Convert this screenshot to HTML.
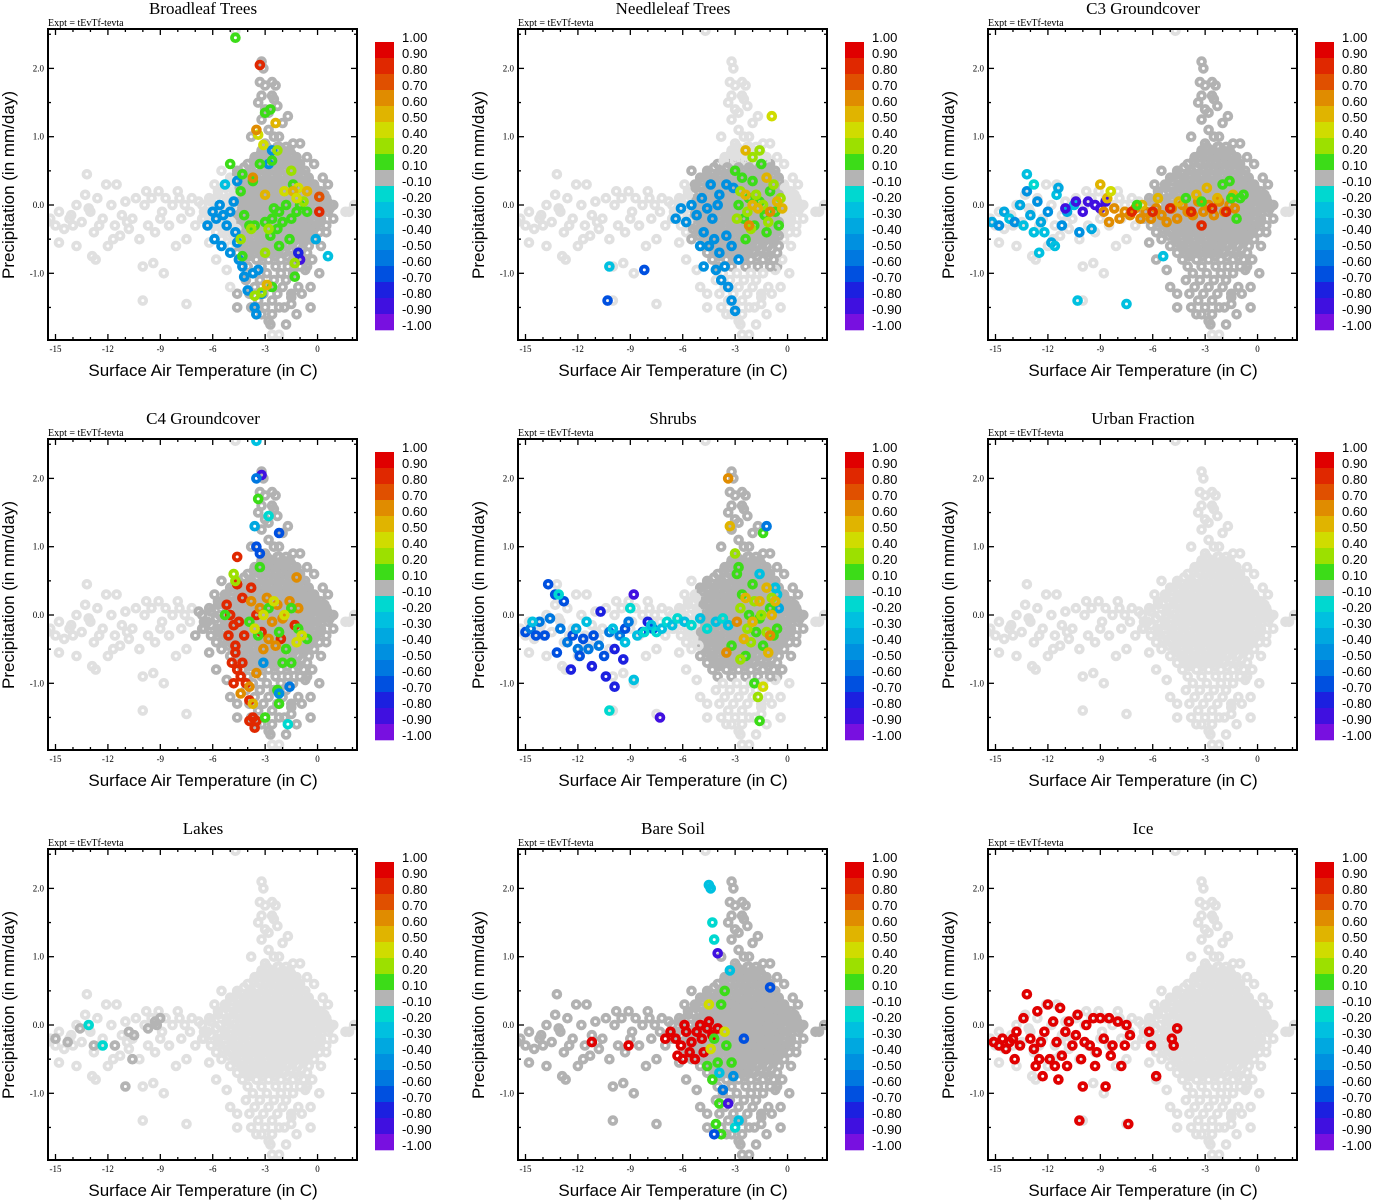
<!DOCTYPE html>
<html><head><meta charset="utf-8">
<style>
html,body{margin:0;padding:0;background:#fff;}
svg{display:block;}
.ttl{font-family:"Liberation Serif",serif;font-size:17px;}
.exp{font-family:"Liberation Serif",serif;font-size:10px;}
.tk{font-family:"Liberation Serif",serif;font-size:9px;}
.ax{font-family:"Liberation Sans",sans-serif;font-size:17px;}
.cb{font-family:"Liberation Sans",sans-serif;font-size:13px;}
</style></head>
<body>
<svg id="root" width="1373" height="1200" viewBox="0 0 1373 1200"></svg>
<script>
// ---------- data ----------
const panelTitles = ["Broadleaf Trees","Needleleaf Trees","C3 Groundcover","C4 Groundcover","Shrubs","Urban Fraction","Lakes","Bare Soil","Ice"];
const xTicks = [-15,-12,-9,-6,-3,0];
const yTicks = [-1.0,0.0,1.0,2.0];
const cbLabels = ["1.00","0.90","0.80","0.70","0.60","0.50","0.40","0.20","0.10","-0.10","-0.20","-0.30","-0.40","-0.50","-0.60","-0.70","-0.80","-0.90","-1.00"];
const cbColors = ["#e00000","#e02800","#e05000","#e08c00","#e0b400","#d0dc00","#9ce000","#3cdc18","#b4b4b4","#00d8d0","#00c0e0","#00a8e0","#0090e0","#0078e0","#0050e0","#1c20e0","#4010e0","#7810e0"];
const cbLevels = [0.9,0.8,0.7,0.6,0.5,0.4,0.2,0.1,-0.1,-0.2,-0.3,-0.4,-0.5,-0.6,-0.7,-0.8,-0.9,-1.0];

// base cloud (temperature, precipitation)
const tailT = [-15.3,-15,-14.8,-14.5,-14.2,-14,-13.8,-13.5,-13.3,-13.2,-13,-12.8,-12.6,-12.5,-12.3,-12.1,-12,-11.8,-11.6,-11.5,-11.3,-11.2,-11,-10.8,-10.6,-10.4,-10.2,-10,-9.9,-9.7,-9.5,-9.3,-9.1,-9,-8.8,-8.7,-8.5,-8.3,-8.1,-8,-7.8,-7.6,-7.5,-7.3,-7.2,-7,-14.8,-13.8,-12.9,-11.7,-10,-7.5,-12.7,-9.4,-6.8,-6.6,-6.5,-14.1,-13.1,-10.9,-9.8,-8.9,-7.9,-15.5,1.6,2.1];
const tailP = [-0.2,-0.3,-0.1,-0.35,-0.2,-0.3,0.0,-0.25,0.15,0.45,-0.1,-0.4,0.1,-0.3,-0.2,0.3,-0.6,0.0,-0.3,0.3,-0.45,-0.15,0.05,-0.35,-0.2,0.1,-0.5,-0.9,0.0,-0.3,0.1,-0.4,0.2,-0.2,-1.0,0.1,-0.3,0.0,-0.6,0.2,-0.2,0.0,-0.5,-0.1,0.1,-0.3,-0.55,-0.6,-0.75,-0.5,-1.4,-1.45,-0.8,-0.85,0.05,-0.2,-0.1,-0.15,-0.05,-0.25,0.2,-0.1,0.1,-0.25,-0.1,0.0];
const spireT = [-3.2,-3.1,-3.3,-3.0,-2.6,-2.4,-2.5,-3.2,-2.6,-3.0,-2.8,-3.2,-2.8,-2.2,-2.5,-3.0,-2.2,-1.7,-4.7,-2.2,-3.4,-2.0,-1.4,-1.9,-3.5,-0.6,-3.8,-1.5,-2.7,-4.6,-1.1,-2.3];
const spireP = [2.1,2.0,1.8,1.75,1.8,1.75,1.55,1.6,1.6,1.4,1.35,1.25,1.1,1.0,1.0,0.9,0.85,1.3,2.55,0.5,1.5,1.2,0.9,-1.5,-1.6,-0.9,1.0,-1.35,-1.75,-1.5,-1.2,1.45];
const extraT = [0.3,0.6,0.8,0.5,0.9,0.2,-0.3,0.1,-0.4,-0.9,-1.2,-1.8,-2.2,-0.6,-0.2,-1.0,-0.4,-1.5,0.4,1.8,-5.5,-5.9,-6.2,-5.8,-5.2,-4.6,-5.0,0.0,-0.7,0.7,-0.1];
const extraP = [0.4,0.3,0.0,-0.4,-0.2,-0.6,-0.8,-1.0,-1.2,-1.3,-1.6,-1.75,-1.9,0.7,0.6,0.9,-1.5,-1.45,0.15,-0.1,0.5,0.3,-0.55,-0.8,-0.95,-1.3,-1.2,0.05,-0.95,-0.05,-0.3];
const coreRowP = [0.8,0.7,0.6,0.5,0.4,0.3,0.2,0.1,0.0,-0.1,-0.2,-0.3,-0.4,-0.5,-0.6,-0.7,-0.8,-0.9,-1.0,-1.1,-1.2,-1.3,-1.4,-1.5,-1.6,-1.7,-1.9];
const coreRowT = [
 [-3.2,-2.6,-2.0,-1.6],
 [-3.6,-2.9,-2.3,-1.8,-1.2],
 [-4.0,-3.3,-2.7,-2.1,-1.5,-1.0],
 [-4.6,-3.8,-3.1,-2.5,-1.9,-1.3,-0.7],
 [-5.0,-4.2,-3.5,-2.9,-2.3,-1.7,-1.1,-0.5],
 [-5.3,-4.5,-3.9,-3.2,-2.6,-2.0,-1.4,-0.8,-0.2],
 [-5.7,-4.8,-4.1,-3.5,-2.9,-2.3,-1.7,-1.1,-0.5,0.2],
 [-6.2,-5.2,-4.4,-3.8,-3.2,-2.6,-2.0,-1.4,-0.8,-0.2,0.5],
 [-6.6,-5.6,-4.8,-4.1,-3.5,-2.9,-2.3,-1.7,-1.1,-0.5,0.2,0.9],
 [-6.3,-5.3,-4.5,-3.8,-3.2,-2.6,-2.0,-1.4,-0.8,-0.2,0.6],
 [-6.5,-5.7,-4.9,-4.2,-3.5,-2.9,-2.3,-1.7,-1.1,-0.5,0.2],
 [-6.1,-5.3,-4.6,-3.9,-3.2,-2.6,-2.0,-1.4,-0.8,-0.2,0.5],
 [-5.8,-5.0,-4.3,-3.6,-2.9,-2.3,-1.7,-1.1,-0.5,0.1],
 [-5.5,-4.7,-4.0,-3.3,-2.6,-2.0,-1.4,-0.8,-0.2],
 [-5.0,-4.3,-3.6,-2.9,-2.3,-1.7,-1.1,-0.5],
 [-4.6,-3.9,-3.2,-2.5,-1.9,-1.2,-0.6],
 [-4.3,-3.5,-2.8,-2.1,-1.4,-0.8],
 [-4.0,-3.2,-2.4,-1.7,-1.0],
 [-3.7,-2.9,-2.1,-1.4],
 [-4.1,-3.3,-2.5,-1.8],
 [-3.6,-2.8,-2.0],
 [-3.9,-3.1,-2.3,-1.5],
 [-3.4,-2.6],
 [-3.8,-3.0,-2.2],
 [-3.2,-2.6],
 [-2.8],
 [-2.6]];

// dark-grey regions per panel [tmin,tmax,pmin,pmax] (data units), null = none
const darkBoxes = [[-4.6,1,-1.8,2.3],[-5.5,-0.5,-0.9,0.6],[-6.5,1,-1.8,2.3],[-7,1,-1.8,2.3],[-5,1,-0.9,2.3],null,null,[-16,3,-2,2.2],null];

// colored points per panel: [t, p, value]
const pts1 = [[-6.3,-0.3,-0.5],[-6.0,-0.1,-0.5],[-5.8,-0.2,-0.5],[-5.6,0.0,-0.5],[-5.4,-0.15,-0.5],[-5.2,-0.3,-0.5],[-5.9,-0.5,-0.5],[-5.5,-0.6,-0.5],[-5.0,-0.1,-0.5],[-4.8,0.05,-0.5],[-4.7,-0.4,-0.5],[-4.5,-0.8,-0.5],[-4.3,-0.9,-0.5],[-5.0,-0.7,-0.5],[-4.2,-1.05,-0.45],[-3.7,-1.0,-0.5],[-3.4,-0.95,-0.5],[-4.0,-1.25,-0.5],[-3.6,-1.5,-0.5],[-3.5,-1.6,-0.45],[-3.2,-1.3,-0.5],[-4.6,-0.55,-0.5],[-5.3,0.3,-0.3],[-4.6,0.35,-0.45],[-2.8,0.6,-0.5],[-2.6,0.8,-0.5],[-0.1,-0.5,-0.4],[0.6,-0.75,-0.25],[-1.0,-0.8,-0.85],[-1.1,-0.7,-0.75],
[-5.0,0.6,0.15],[-4.3,0.45,0.15],[-3.7,0.35,0.15],[-4.4,0.2,0.15],[-4.2,-0.15,0.15],[-3.9,-0.3,0.15],[-3.6,-0.3,0.15],[-3.0,-0.25,0.15],[-2.6,-0.2,0.15],[-2.3,-0.35,0.15],[-2.0,-0.25,0.15],[-1.5,-0.2,0.15],[-1.2,-0.1,0.15],[-2.5,-0.05,0.15],[-2.2,-0.1,0.15],[-1.8,0.0,0.15],[-1.4,0.3,0.15],[-1.0,0.0,0.15],[-0.6,-0.1,0.15],[-2.7,-0.45,0.15],[-2.2,-0.6,0.15],[-1.6,-0.5,0.15],[-4.3,-0.75,0.15],[-2.6,-1.2,0.15],[-1.3,-1.05,0.15],[-2.7,1.4,0.15],[-3.0,1.35,0.15],[-2.6,0.65,0.15],[-3.3,0.6,0.15],[-1.3,-0.85,0.3],[-1.5,0.5,0.3],[-4.7,2.45,0.15],
[-3.4,1.03,0.45],[-3.1,0.88,0.45],[-2.3,0.8,0.3],[-1.9,0.2,0.45],[-1.1,0.25,0.45],[-2.8,-0.35,0.3],[-3.8,-0.35,0.3],[-4.4,-0.5,0.3],[-3.0,-0.7,0.3],[-3.6,-1.33,0.3],[-3.2,-1.28,0.3],[-0.8,0.05,0.3],
[-3.0,0.15,0.55],[-1.4,0.2,0.55],[-1.2,0.1,0.45],[-2.4,1.2,0.55],[-0.6,0.2,0.55],[-2.9,-1.17,0.55],[-3.5,1.1,0.65],[-3.7,0.4,0.65],[-3.3,2.05,0.85],[0.1,0.12,0.75],[0.1,-0.1,0.85]];
const pts2 = [[-6.4,-0.2,-0.5],[-6.1,-0.05,-0.5],[-5.8,-0.25,-0.5],[-5.5,0.0,-0.5],[-5.2,-0.15,-0.5],[-4.9,0.1,-0.5],[-4.6,-0.05,-0.5],[-4.3,-0.2,-0.5],[-4.0,0.0,-0.5],[-4.4,0.3,-0.5],[-4.8,-0.4,-0.5],[-4.5,-0.6,-0.5],[-4.2,-0.5,-0.5],[-3.9,-0.7,-0.5],[-3.6,-0.9,-0.5],[-3.8,-1.1,-0.5],[-3.4,-1.2,-0.5],[-3.2,-1.4,-0.5],[-3.0,-1.55,-0.5],[-3.5,-0.45,-0.5],[-3.2,-0.6,-0.5],[-2.8,-0.8,-0.5],[-4.8,-0.9,-0.5],[-4.1,-0.95,-0.5],[-3.9,0.15,-0.5],[-3.5,0.3,-0.5],[-3.1,0.25,-0.5],[-5.0,-0.6,-0.5],[-10.2,-0.9,-0.25],[-8.2,-0.95,-0.65],[-10.3,-1.4,-0.7],
[-2.8,0.0,0.15],[-2.5,-0.2,0.15],[-2.2,0.1,0.15],[-1.9,-0.3,0.15],[-1.6,0.05,0.15],[-1.3,-0.15,0.15],[-1.0,0.2,0.15],[-0.7,-0.1,0.15],[-2.0,0.35,0.15],[-2.6,0.4,0.15],[-1.2,-0.4,0.15],[-0.5,-0.3,0.15],[-1.5,0.6,0.15],[-2.4,-0.5,0.15],[-3.0,0.5,0.15],
[-2.7,0.2,0.3],[-2.3,-0.1,0.3],[-1.8,0.15,0.3],[-1.4,0.0,0.3],[-1.1,-0.25,0.3],[-0.8,0.3,0.3],[-2.1,-0.35,0.3],[-1.6,0.8,0.3],[-2.0,0.7,0.3],[-0.4,0.1,0.3],[-2.9,-0.2,0.3],[-0.9,1.3,0.45],
[-2.4,0.15,0.55],[-1.7,-0.05,0.55],[-1.2,0.4,0.55],[-0.6,0.05,0.55],[-2.0,0.0,0.55],[-0.3,-0.05,0.55],[-2.4,0.8,0.55],[-1.0,-0.1,0.65],[-2.2,-0.3,0.65]];
const pts3 = [[-15.2,-0.25,-0.35],[-14.8,-0.3,-0.45],[-14.5,-0.1,-0.35],[-14.2,-0.2,-0.3],[-13.9,-0.25,-0.45],[-13.6,0.0,-0.35],[-13.4,-0.3,-0.3],[-13.2,0.2,-0.45],[-13.0,-0.15,-0.35],[-12.8,-0.4,-0.3],[-12.6,0.05,-0.45],[-12.4,-0.25,-0.35],[-12.2,-0.4,-0.3],[-12.0,-0.1,-0.45],[-11.8,-0.55,-0.35],[-11.5,0.15,-0.3],[-11.2,-0.3,-0.45],[-10.9,-0.1,-0.35],[-10.5,0.0,-0.3],[-10.2,-0.4,-0.45],[-11.6,-0.6,-0.3],[-12.5,-0.7,-0.25],[-10.3,-1.4,-0.25],[-7.5,-1.45,-0.3],[-13.2,0.45,-0.3],[-12.8,0.3,-0.2],[-11.4,0.25,-0.35],[-9.5,-0.35,-0.35],
[-10.0,-0.1,-0.85],[-9.7,0.05,-0.85],[-9.3,0.0,-0.85],[-9.0,-0.05,-0.85],[-8.7,0.05,-0.85],[-10.4,0.05,-0.85],[-11.0,-0.05,-0.85],
[-8.8,-0.1,0.65],[-8.5,-0.25,0.65],[-8.2,-0.05,0.65],[-7.9,-0.2,0.65],[-7.6,-0.1,0.65],[-7.3,-0.15,0.65],[-7.0,-0.05,0.65],[-6.7,-0.2,0.65],[-6.4,-0.1,0.65],[-6.1,-0.2,0.65],[-5.8,-0.05,0.65],[-5.5,-0.15,0.65],[-5.2,-0.25,0.65],[-4.9,-0.05,0.65],[-4.6,-0.2,0.65],[-4.3,0.0,0.65],[-4.0,-0.1,0.65],[-3.7,-0.15,0.65],[-3.4,0.05,0.65],[-3.1,-0.1,0.65],[-2.8,0.0,0.65],[-2.5,-0.15,0.65],[-2.2,0.05,0.65],[-1.9,-0.1,0.65],[-1.6,0.0,0.65],[-1.3,-0.05,0.65],[-8.6,0.1,0.55],[-9.0,0.3,0.55],[-8.4,0.2,0.45],
[-5.0,-0.05,0.85],[-3.8,-0.1,0.85],[-2.6,-0.05,0.85],[-1.8,-0.1,0.85],[-7.2,-0.1,0.85],[-3.2,-0.3,0.85],[-6.0,-0.1,0.85],
[-4.5,0.05,0.55],[-3.5,0.15,0.55],[-2.3,0.1,0.55],[-1.4,0.15,0.55],[-2.9,0.25,0.55],[-6.6,0.0,0.55],[-5.7,0.1,0.55],
[-2.0,0.3,0.15],[-1.5,0.1,0.15],[-1.0,0.1,0.15],[-3.2,0.05,0.15],[-1.2,-0.2,0.15],[-4.1,0.1,0.15],[-6.9,0.0,0.15],[-0.8,0.15,0.15],[-1.6,0.35,0.15],[-5.4,-0.75,-0.25]];
const pts4 = [[-5.2,0.15,0.85],[-5.0,0.0,0.85],[-4.8,-0.15,0.85],[-5.1,-0.3,0.85],[-4.7,-0.45,0.85],[-4.5,-0.1,0.85],[-4.3,0.25,0.85],[-4.9,-0.7,0.85],[-4.6,-0.8,0.85],[-4.4,-0.9,0.85],[-4.1,-1.0,0.85],[-3.9,-1.25,0.85],[-3.7,-1.5,0.85],[-3.9,-1.55,0.85],[-4.6,0.45,0.85],[-4.2,-0.3,0.85],[-3.8,0.4,0.85],[-3.5,0.0,0.85],[-3.2,-0.25,0.85],[-4.8,-1.0,0.85],[-4.6,0.85,0.85],[-3.5,-1.55,0.85],[-3.6,-1.65,0.85],[-4.3,-0.7,0.85],[-4.7,-0.55,0.85],[-2.1,-0.35,0.85],[-1.3,-0.15,0.85],
[-3.8,0.2,0.65],[-3.3,0.1,0.65],[-2.9,0.25,0.65],[-2.6,-0.1,0.65],[-2.3,0.15,0.65],[-2.0,-0.05,0.65],[-1.6,0.2,0.65],[-1.1,0.1,0.65],[-2.8,-0.35,0.65],[-2.4,-0.45,0.65],[-3.1,-0.5,0.65],[-1.2,0.55,0.65],[-4.4,-1.15,0.65],[-3.5,-0.85,0.65],[-3.9,-1.05,0.65],[-3.7,-1.3,0.55],
[-3.9,-0.1,0.15],[-3.4,-0.3,0.15],[-2.8,0.1,0.15],[-2.2,-0.25,0.15],[-1.8,-0.5,0.15],[-1.1,-0.2,0.15],[-0.6,-0.35,0.15],[-1.5,-0.7,0.15],[-2.0,-0.7,0.15],[-2.3,-1.1,0.15],[-3.0,-1.5,0.15],[-2.2,-1.3,0.15],[-3.3,0.7,0.15],[-3.4,1.7,0.15],[-5.3,0.0,0.15],[-4.8,0.6,0.3],[-4.7,0.5,0.3],[-1.5,0.1,0.15],
[-3.1,0.0,0.45],[-2.5,0.2,0.45],[-1.9,0.0,0.45],[-1.2,-0.4,0.45],[-3.6,-0.2,0.45],[-0.9,-0.3,0.45],
[-3.2,2.05,-0.9],[-3.5,2.0,-0.6],[-3.5,1.0,-0.7],[-2.8,1.45,-0.2],[-2.2,1.2,-0.65],[-3.3,0.9,-0.65],[-3.1,-0.7,-0.5],[-1.6,-1.05,-0.6],[-2.2,-1.15,-0.45],[-1.7,-1.6,-0.2],[-3.6,1.3,-0.4],[-3.5,2.55,-0.25]];
const pts5 = [[-15.0,-0.25,-0.7],[-14.7,-0.2,-0.6],[-14.4,-0.3,-0.7],[-14.2,-0.1,-0.6],[-13.9,-0.3,-0.7],[-13.6,-0.05,-0.6],[-13.3,0.3,-0.7],[-13.0,-0.2,-0.6],[-12.8,0.2,-0.7],[-12.6,-0.4,-0.6],[-12.3,-0.3,-0.7],[-12.0,-0.5,-0.6],[-11.7,-0.35,-0.7],[-11.4,-0.5,-0.6],[-11.1,-0.3,-0.7],[-10.8,-0.45,-0.6],[-10.5,-0.6,-0.7],[-10.2,-0.25,-0.6],[-9.9,-0.5,-0.75],[-9.6,-0.3,-0.6],[-13.2,-0.55,-0.7],[-12.4,-0.8,-0.75],[-11.9,-0.6,-0.7],[-11.2,-0.75,-0.8],[-10.4,-0.9,-0.75],[-9.9,-1.05,-0.8],[-13.7,0.45,-0.7],[-10.7,0.05,-0.75],[-9.4,-0.65,-0.8],[-9.3,-0.2,-0.7],[-8.3,-0.25,-0.7],[-8.0,-0.1,-0.75],[-7.7,-0.2,-0.7],[-7.3,-1.5,-0.85],[-9.1,-0.1,-0.6],[-8.8,0.3,-0.9],
[-14.6,-0.1,-0.3],[-13.1,0.3,-0.2],[-12.1,-0.2,-0.35],[-11.5,-0.1,-0.3],[-10.0,-0.2,-0.3],[-9.3,-0.4,-0.3],[-9.0,0.1,-0.2],[-8.6,-0.3,-0.3],[-8.2,-0.25,-0.2],[-7.8,-0.15,-0.3],[-7.5,-0.25,-0.2],[-7.2,-0.2,-0.3],[-6.9,-0.1,-0.2],[-6.6,-0.15,-0.3],[-6.3,-0.05,-0.2],[-5.9,-0.1,-0.3],[-5.5,-0.15,-0.2],[-5.0,-0.05,-0.3],[-4.6,-0.2,-0.2],[-4.1,-0.1,-0.3],[-3.7,-0.05,-0.2],[-3.4,-0.15,-0.3],[-10.2,-1.4,-0.2],[-8.8,-0.95,-0.25],[-1.6,0.6,-0.3],[-0.7,0.4,-0.3],[-0.5,0.1,-0.4],[-0.6,0.3,-0.3],
[-2.9,0.6,0.15],[-2.6,0.3,0.15],[-2.2,0.0,0.15],[-1.8,-0.25,0.15],[-1.4,-0.45,0.15],[-1.0,0.1,0.15],[-0.6,-0.2,0.15],[-2.4,-0.6,0.15],[-3.2,-0.45,0.15],[-2.0,0.45,0.15],[-1.6,-0.05,0.15],[-0.8,-0.3,0.15],[-1.4,1.2,0.15],[-1.9,-1.0,0.15],[-1.6,-1.55,0.15],[-2.8,0.7,0.15],
[-2.7,0.1,0.3],[-2.3,-0.2,0.3],[-1.9,0.2,0.3],[-1.5,0.0,0.3],[-1.2,-0.25,0.3],[-0.9,0.25,0.3],[-2.1,-0.4,0.3],[-2.7,-0.65,0.3],[-1.7,-1.2,0.3],[-1.4,-1.05,0.45],[-3.0,0.9,0.3],
[-2.4,0.25,0.55],[-2.0,-0.1,0.55],[-1.6,0.2,0.55],[-1.2,0.4,0.55],[-0.9,0.0,0.55],[-0.7,0.2,0.55],[-3.3,1.3,0.55],[-3.4,2.0,0.65],[-2.5,-0.35,0.55],[-1.1,-0.55,0.55],[-2.9,-0.1,0.65],[-3.5,-0.55,0.65],[-1.0,-0.3,0.65],[-1.2,1.3,-0.55]];
const pts6 = [];
const pts7 = [[-13.6,-0.05,0],[-12.8,-0.3,0],[-11.6,-0.3,0],[-10.8,-0.1,0],[-10.5,-0.15,0],[-9.7,-0.05,0],[-9.3,0.05,0],[-9.0,0.1,0],[-9.2,0.0,0],[-11.0,-0.9,0],[-10.6,-0.5,0],[-14.3,-0.25,0],[-15.0,-0.2,0],[-13.1,0.0,-0.2],[-12.3,-0.3,-0.2]];
const pts8 = [[-7.0,-0.2,0.9],[-6.7,-0.1,0.9],[-6.4,-0.2,0.9],[-6.1,-0.3,0.9],[-5.8,-0.1,0.9],[-5.5,-0.25,0.9],[-5.2,-0.1,0.9],[-4.9,-0.2,0.9],[-4.6,-0.05,0.9],[-4.3,-0.15,0.9],[-4.0,-0.05,0.9],[-6.3,-0.45,0.9],[-6.0,-0.5,0.9],[-5.6,-0.4,0.9],[-5.3,-0.5,0.9],[-5.0,0.0,0.9],[-11.2,-0.25,0.9],[-9.1,-0.3,0.9],[-4.5,0.05,0.9],[-5.9,0.0,0.9],[-4.8,-0.4,0.9],
[-4.2,-0.2,0.15],[-3.8,0.3,0.15],[-3.5,-0.3,0.15],[-4.6,-0.6,0.15],[-3.2,-0.55,0.15],[-4.0,-0.55,0.15],[-4.3,-0.8,0.15],[-3.9,-1.15,0.15],[-3.8,-1.6,0.15],[-4.1,-1.45,0.15],[-3.6,0.5,0.15],[-4.4,-0.35,0.45],[-3.6,-0.1,0.45],[-4.5,0.3,0.45],
[-3.3,0.8,-0.3],[-4.3,1.5,-0.2],[-4.2,1.25,-0.2],[-4.0,1.05,-0.9],[-4.4,2.0,-0.25],[-4.5,2.05,-0.3],[-3.4,-1.15,-0.85],[-3.1,-0.75,-0.5],[-3.0,-1.5,-0.2],[-4.2,-1.6,-0.7],[-2.8,-1.4,-0.3],[-3.7,-0.95,-0.6],[-3.9,-0.7,-0.3],[-1.0,0.55,-0.7],[-2.5,-0.2,-0.7]];
const pts9 = [[-15.1,-0.25,0.9],[-14.8,-0.3,0.9],[-14.6,-0.2,0.9],[-14.4,-0.35,0.9],[-14.2,-0.25,0.9],[-14.0,-0.2,0.9],[-13.8,-0.1,0.9],[-13.6,-0.3,0.9],[-13.4,0.1,0.9],[-13.2,0.45,0.9],[-13.0,-0.2,0.9],[-12.8,-0.35,0.9],[-12.6,0.2,0.9],[-12.4,-0.25,0.9],[-12.2,-0.1,0.9],[-12.0,0.3,0.9],[-11.9,-0.5,0.9],[-11.7,0.05,0.9],[-11.5,-0.25,0.9],[-11.3,0.25,0.9],[-11.2,-0.45,0.9],[-11.0,-0.1,0.9],[-10.8,0.05,0.9],[-10.6,-0.3,0.9],[-10.4,-0.15,0.9],[-10.3,0.15,0.9],[-10.1,-0.5,0.9],[-10.0,-0.9,0.9],[-9.8,0.0,0.9],[-9.6,-0.3,0.9],[-9.4,0.1,0.9],[-9.2,-0.4,0.9],[-9.0,0.1,0.9],[-8.8,-0.2,0.9],[-8.7,-0.9,0.9],[-8.5,0.1,0.9],[-8.3,-0.3,0.9],[-8.0,0.05,0.9],[-7.8,-0.6,0.9],[-7.5,0.0,0.9],[-7.3,-0.15,0.9],[-12.7,-0.6,0.9],[-12.3,-0.75,0.9],[-11.6,-0.6,0.9],[-13.9,-0.5,0.9],[-10.2,-1.4,0.9],[-7.4,-1.45,0.9],[-6.2,-0.1,0.9],[-6.1,-0.3,0.9],[-5.8,-0.75,0.9],[-4.9,-0.2,0.9],[-4.6,-0.05,0.9],[-4.8,-0.3,0.9],[-12.5,-0.5,0.9],[-11.4,-0.8,0.9],[-9.3,-0.6,0.9],[-10.9,-0.6,0.9],[-9.9,-0.25,0.9],[-8.4,-0.45,0.9],[-7.6,-0.3,0.9]];
const panelPoints = [pts1,pts2,pts3,pts4,pts5,pts6,pts7,pts8,pts9];

// ---------- drawing ----------
const NS = "http://www.w3.org/2000/svg";
const root = document.getElementById("root");
function mk(tag, attrs, parent){const e=document.createElementNS(NS,tag);for(const k in attrs)e.setAttribute(k,attrs[k]);(parent||root).appendChild(e);return e;}
function colorFor(v){
  if(v>-0.1 && v<0.1) return cbColors[8];
  for(let i=0;i<cbLevels.length;i++){ if(v>=cbLevels[i]) return cbColors[i]; }
  return cbColors[cbColors.length-1];
}
const baseT=[], baseP=[];
tailT.forEach((t,i)=>{baseT.push(t);baseP.push(tailP[i]);});
spireT.forEach((t,i)=>{baseT.push(t);baseP.push(spireP[i]);});
extraT.forEach((t,i)=>{baseT.push(t);baseP.push(extraP[i]);});
coreRowP.forEach((p,r)=>{coreRowT[r].forEach(t=>{baseT.push(t);baseP.push(p);});});
coreRowP.slice(0,17).forEach((p,r)=>{coreRowT[r].slice(0,-1).forEach((t,j)=>{baseT.push((t+coreRowT[r][j+1])/2);baseP.push(p+0.05);});});

const X0=55.5, XS=17.47, Y0=205, YS=68.3;
const RR=3.4, SW=3.8;
for(let k=0;k<9;k++){
  const ox=(k%3)*470, oy=Math.floor(k/3)*410;
  const xs=t=>ox+X0+(t+15)*XS;
  const ys=p=>oy+Y0-p*YS;
  const g=mk("g",{});
  
  
  const title=mk("text",{x:ox+203,y:oy+14,"text-anchor":"middle",class:"ttl"},g);
  title.textContent=panelTitles[k];
  
  
  const ex=mk("text",{x:ox+48,y:oy+26,class:"exp"},g);
  ex.textContent="Expt = tEvTf-tevta";
  
  
  const cp=mk("clipPath",{id:"c"+k},g);
  mk("rect",{x:ox+48,y:oy+29,width:309,height:311},cp);
  const pg=mk("g",{"clip-path":"url(#c"+k+")"},g);
  
  
  const db=darkBoxes[k];
  baseT.forEach((t,i)=>{
    const p=baseP[i];
    const dark = db && t>=db[0]&&t<=db[1]&&p>=db[2]&&p<=db[3];
    const c=mk("circle",{cx:xs(t).toFixed(1),cy:ys(p).toFixed(1),r:RR,fill:"none",stroke:dark?"#b2b2b2":"#e0e0e0","stroke-width":SW},pg);
    
    
  });
  panelPoints[k].forEach(d=>{
    const c=mk("circle",{cx:xs(d[0]).toFixed(1),cy:ys(d[1]).toFixed(1),r:RR,fill:"none",stroke:colorFor(d[2]),"stroke-width":SW},pg);
    
    
  });
  const fr=mk("rect",{x:ox+48,y:oy+29,width:309,height:311,fill:"none",stroke:"#000","stroke-width":2},g);
  
  
  for(let t=-15;t<=2;t++){
    const maj=xTicks.includes(t), L=maj?6:3;
    mk("line",{x1:xs(t),x2:xs(t),y1:oy+340,y2:oy+340-L,stroke:"#000","stroke-width":1.3},g);
    mk("line",{x1:xs(t),x2:xs(t),y1:oy+29,y2:oy+29+L,stroke:"#000","stroke-width":1.3},g);
  }
  xTicks.forEach(t=>{
    const tx=mk("text",{x:xs(t),y:oy+352,"text-anchor":"middle",class:"tk"},g);
    tx.textContent=String(t);
    
    
  });
  for(let p=-1.5;p<=2.5;p+=0.5){
    const maj=Math.abs(p-Math.round(p))<0.01, L=maj?6:3;
    mk("line",{x1:ox+48,x2:ox+48+L,y1:ys(p),y2:ys(p),stroke:"#000","stroke-width":1.3},g);
    mk("line",{x1:ox+357,x2:ox+357-L,y1:ys(p),y2:ys(p),stroke:"#000","stroke-width":1.3},g);
  }
  yTicks.forEach(p=>{
    const tx=mk("text",{x:ox+44,y:ys(p)+3,"text-anchor":"end",class:"tk"},g);
    tx.textContent=p.toFixed(1);
    
    
  });
  const xt=mk("text",{x:ox+203,y:oy+376,"text-anchor":"middle",class:"ax"},g);
  xt.textContent="Surface Air Temperature (in C)";
  
  
  const yt=mk("text",{x:0,y:0,"text-anchor":"middle",class:"ax",transform:`translate(${ox+14},${oy+185}) rotate(-90)`},g);
  yt.textContent="Precipitation (in mm/day)";
  
  
  const cbg=mk("g",{},g);
  
  
  cbColors.forEach((c,i)=>{
    const r=mk("rect",{x:ox+375,y:oy+42+16*i,width:19,height:16.3,fill:c},cbg);
    
    
  });
  cbLabels.forEach((s,i)=>{
    const tx=mk("text",{x:ox+402,y:oy+42+16*i,class:"cb"},cbg);
    tx.textContent=s;
    
    
  });
}
</script>
</body></html>
